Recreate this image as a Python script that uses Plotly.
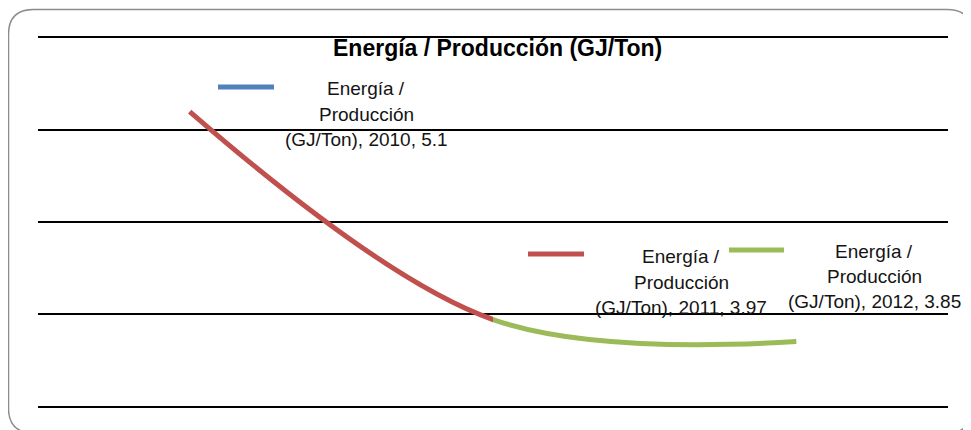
import plotly.graph_objects as go

# ---- data ----
years = [2010, 2011, 2012]
values = [5.1, 3.97, 3.85]
series_name = "Energía / Producción (GJ/Ton)"
point_colors = ["#4F81BD", "#C0504D", "#9BBB59"]

# ---- layout geometry (pixels in the screenshot) ----
OFF = 8  # page body margin
W, H = 971 - OFF, 430 - OFF
L, R, T, B = 38, 948, 38, 406  # plot area in screenshot pixels


def fx(px):
    return (px - L) / (R - L)


def fy(py):
    return (B - py) / (B - T)


FONT = "Liberation Sans"

fig = go.Figure()
# red segment (2010 -> 2011) drawn on left half axis, green (2011 -> 2012) on right half
fig.add_trace(go.Scatter(x=years, y=values, mode="lines", xaxis="x", yaxis="y",
                         line=dict(color=point_colors[1], width=5, shape="spline", smoothing=1),
                         hoverinfo="skip", showlegend=False))
fig.add_trace(go.Scatter(x=years, y=values, mode="lines", xaxis="x2", yaxis="y",
                         line=dict(color=point_colors[2], width=5, shape="spline", smoothing=1),
                         hoverinfo="skip", showlegend=False))

# data label layout: key line (x0, x1, y), text center x, line center ys
label_layout = [
    (218, 274, 87, 366, [88, 114, 139]),
    (528, 584, 254, 681, [257, 282, 307]),
    (729, 784, 250, 874, [251, 276, 301]),
]

shapes = []
annotations = []
for i, (yr, v) in enumerate(zip(years, values)):
    k0, k1, ky, tcx, tys = label_layout[i]
    shapes.append(dict(type="line", xref="paper", yref="paper",
                       x0=fx(k0), x1=fx(k1), y0=fy(ky), y1=fy(ky),
                       line=dict(color=point_colors[i], width=5)))
    words = f"{series_name}, {yr}, {v:g}".split(" ")
    lines = [" ".join(words[0:2]), words[2], " ".join(words[3:])]
    for txt, ty in zip(lines, tys):
        annotations.append(dict(text=txt, xref="paper", yref="paper", x=fx(tcx), y=fy(ty),
                                xanchor="center", yanchor="middle", showarrow=False,
                                font=dict(family=FONT, size=19, color="#141414")))

# title
annotations.append(dict(text=f"<b>{series_name}</b>", xref="paper", yref="paper",
                        x=fx(497), y=fy(48), xanchor="center", yanchor="middle",
                        showarrow=False, font=dict(family=FONT, size=23, color="#000000")))

# rounded chart border
bx0, by0, bx1, by1, r = 8.5, 9.5, 972, 433, 25
path = (f"M {fx(bx0)},{fy(by0 + r)} "
        f"Q {fx(bx0)},{fy(by0)} {fx(bx0 + r)},{fy(by0)} "
        f"L {fx(bx1 - r)},{fy(by0)} "
        f"Q {fx(bx1)},{fy(by0)} {fx(bx1)},{fy(by0 + r)} "
        f"L {fx(bx1)},{fy(by1 - r)} "
        f"Q {fx(bx1)},{fy(by1)} {fx(bx1 - r)},{fy(by1)} "
        f"L {fx(bx0 + r)},{fy(by1)} "
        f"Q {fx(bx0)},{fy(by1)} {fx(bx0)},{fy(by1 - r)} Z")
shapes.append(dict(type="path", xref="paper", yref="paper", path=path,
                   line=dict(color="#8c8c8c", width=1.5), layer="below"))

axis_common = dict(showgrid=False, showticklabels=False, zeroline=False,
                   showline=True, mirror=True, linecolor="#000000", linewidth=1.5,
                   ticks="", fixedrange=True)
fig.update_layout(
    width=W, height=H,
    margin=dict(l=L - OFF, r=W - (R - OFF), t=T - OFF, b=H - (B - OFF)),
    paper_bgcolor="white", plot_bgcolor="rgba(0,0,0,0)",
    xaxis=dict(domain=[0, 0.5], range=[2009.5, 2011], anchor="y", **axis_common),
    xaxis2=dict(domain=[0.5, 1], range=[2011, 2012.5], anchor="y", **axis_common),
    yaxis=dict(range=[3.5, 5.5], dtick=0.5, tick0=3.5, showgrid=True, gridcolor="#000000",
               gridwidth=1.5, showticklabels=False, zeroline=False, showline=False, ticks="",
               anchor="x", fixedrange=True),
    shapes=shapes,
    annotations=annotations,
    showlegend=False,
)

fig.write_html("out.html")
